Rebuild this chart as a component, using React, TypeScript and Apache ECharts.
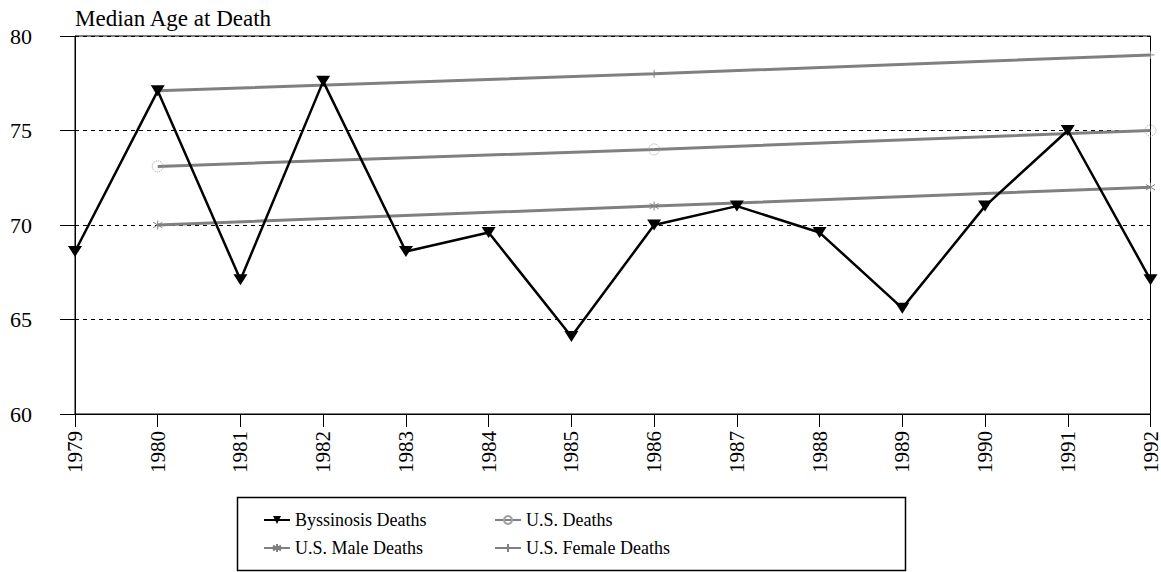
import React, { useEffect, useRef } from "react";
import * as echarts from "echarts";

const years = ["1979","1980","1981","1982","1983","1984","1985","1986","1987","1988","1989","1990","1991","1992"];
const byssinosis = [68.6, 77.1, 67.1, 77.6, 68.6, 69.6, 64.1, 70.0, 71.0, 69.6, 65.6, 71.0, 75.0, 67.1];
const usDeaths = [null, 73.1, null, null, null, null, null, 74.0, null, null, null, null, null, 75.0];
const usMale = [null, 70.0, null, null, null, null, null, 71.0, null, null, null, null, null, 72.0];
const usFemale = [null, 77.1, null, null, null, null, null, 78.0, null, null, null, null, null, 79.0];
const yTicks = [60, 65, 70, 75, 80];

const FONT = "Liberation Serif";
const GRAY = "#808080";

export default function App() {
  const ref = useRef<HTMLDivElement>(null);
  useEffect(() => {
    if (!ref.current) return;
    const chart = echarts.init(ref.current, null, { renderer: "svg" });
    const legendText = { fontFamily: FONT, fontSize: 18, color: "#000" };
    chart.setOption({
      animation: false,
      backgroundColor: "#fff",
      textStyle: { fontFamily: FONT },
      title: {
        text: "Median Age at Death",
        left: 75,
        top: 7,
        padding: 0,
        textStyle: { fontFamily: FONT, fontSize: 23, fontWeight: "normal", color: "#000" },
      },
      grid: { left: 75, right: 7, top: 36, bottom: 158, show: true, borderColor: "#000", borderWidth: 1 },
      xAxis: {
        type: "category",
        data: years,
        boundaryGap: false,
        axisLine: { lineStyle: { color: "#000", width: 1 } },
        axisTick: { show: true, length: 13, alignWithLabel: true, lineStyle: { color: "#000" } },
        axisLabel: { rotate: 90, fontFamily: FONT, fontSize: 21, color: "#000", margin: 17, interval: 0 },
        splitLine: { show: false },
      },
      yAxis: {
        type: "value",
        min: yTicks[0],
        max: yTicks[yTicks.length - 1],
        interval: 5,
        axisLine: { show: true, lineStyle: { color: "#000", width: 1 } },
        axisTick: { show: true, inside: false, length: 15, lineStyle: { color: "#000" } },
        axisLabel: { fontFamily: FONT, fontSize: 22, color: "#000", margin: 43 },
        splitLine: { show: true, lineStyle: { color: "#000", type: [4, 4], width: 1 } },
      },
      legend: [
        {
          orient: "vertical",
          left: 263,
          top: 511,
          itemWidth: 26,
          itemHeight: 10,
          itemGap: 10,
          data: ["Byssinosis Deaths", "U.S. Male Deaths"],
          textStyle: legendText,
          padding: 0,
        },
        {
          orient: "vertical",
          left: 494,
          top: 511,
          itemWidth: 26,
          itemHeight: 10,
          itemGap: 10,
          data: ["U.S. Deaths", "U.S. Female Deaths"],
          textStyle: legendText,
          padding: 0,
        },
      ],
      graphic: [
        {
          type: "rect",
          shape: { x: 237.5, y: 497.5, width: 668, height: 73 },
          style: { fill: "none", stroke: "#000", lineWidth: 1.5 },
          z: 10,
        },
      ],
      series: [
        {
          name: "U.S. Female Deaths",
          type: "line",
          data: usFemale,
          connectNulls: true,
          symbol: "path://M0,-5L0,5M-5,0L5,0",
          symbolSize: 8,
          lineStyle: { color: GRAY, width: 3 },
          itemStyle: { color: GRAY, borderColor: GRAY, borderWidth: 1 },
          z: 2,
        },
        {
          name: "U.S. Deaths",
          type: "line",
          data: usDeaths,
          connectNulls: true,
          symbol: "circle",
          symbolSize: 11,
          lineStyle: { color: GRAY, width: 3 },
          itemStyle: { color: "rgba(255,255,255,0)", borderColor: "#a0a0a0", borderWidth: 1, borderType: "dotted" },
          z: 2,
        },
        {
          name: "U.S. Male Deaths",
          type: "line",
          data: usMale,
          connectNulls: true,
          symbol: "path://M0,-5L0,5M-5,-3L5,3M-5,3L5,-3",
          symbolSize: 9,
          lineStyle: { color: GRAY, width: 3 },
          itemStyle: { color: GRAY, borderColor: GRAY, borderWidth: 1 },
          z: 2,
        },
        {
          name: "Byssinosis Deaths",
          type: "line",
          data: byssinosis,
          symbol: "path://M0,0L10,0L5,8Z",
          symbolSize: [14, 11],
          lineStyle: { color: "#000", width: 2.5 },
          itemStyle: { color: "#000", borderColor: "#000", borderWidth: 0 },
          z: 3,
        },
      ],
    });
    return () => chart.dispose();
  }, []);
  return <div ref={ref} style={{ position: "absolute", left: 0, top: 0, width: 1161, height: 572 }} />;
}
